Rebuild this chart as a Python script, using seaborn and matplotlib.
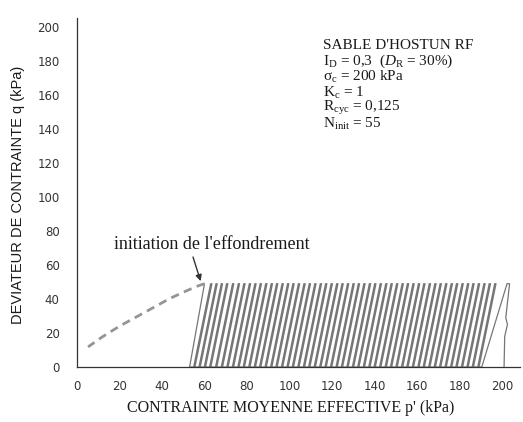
import matplotlib
matplotlib.use("Agg")
import matplotlib.pyplot as plt
import numpy as np
import pandas as pd
import seaborn as sns

# ---------------- data ----------------
# first cycle (right-most curve): load then unload
first_p = [201.0, 201.3, 202.6, 201.8, 203.0, 203.6, 202.4, 190.5]
first_q = [0.0, 18.0, 25.0, 29.0, 42.0, 49.0, 49.0, 0.0]

load_bottom_p = [189.2, 186.6, 184.1, 181.5, 178.9, 176.4, 173.8, 171.2, 168.7, 166.1,
                 163.5, 161.0, 158.4, 155.8, 153.3, 150.7, 148.1, 145.6, 143.0, 140.4,
                 137.9, 135.3, 132.7, 130.2, 127.6, 125.0, 122.5, 119.9, 117.3, 114.8,
                 112.2, 109.6, 107.1, 104.5, 101.9, 99.4, 96.8, 94.2, 91.7, 89.1,
                 86.5, 84.0, 81.4, 78.8, 76.3, 73.7, 71.1, 68.5, 65.8, 63.0,
                 60.5, 58.0, 55.5, 53.0]
load_top_p = [197.2, 194.6, 192.1, 189.5, 186.9, 184.4, 181.8, 179.2, 176.7, 174.1,
              171.5, 169.0, 166.4, 163.8, 161.3, 158.7, 156.1, 153.6, 151.0, 148.4,
              145.9, 143.3, 140.7, 138.2, 135.6, 133.0, 130.5, 127.9, 125.3, 122.8,
              120.2, 117.6, 115.1, 112.5, 109.9, 107.4, 104.8, 102.2, 99.7, 97.1,
              94.5, 92.0, 89.4, 86.8, 84.3, 81.7, 79.1, 76.5, 73.8, 71.0,
              68.5, 66.0, 63.5, 60.0]
unload_top_p = [196.6, 194.0, 191.5, 188.9, 186.3, 183.8, 181.2, 178.6, 176.1, 173.5,
                170.9, 168.4, 165.8, 163.2, 160.7, 158.1, 155.5, 153.0, 150.4, 147.8,
                145.3, 142.7, 140.1, 137.6, 135.0, 132.4, 129.9, 127.3, 124.7, 122.2,
                119.6, 117.0, 114.5, 111.9, 109.3, 106.8, 104.2, 101.6, 99.1, 96.5,
                93.9, 91.4, 88.8, 86.2, 83.7, 81.1, 78.5, 75.9, 73.2, 70.4,
                67.9, 65.4, 62.9]
unload_bottom_p = [188.6, 186.0, 183.5, 180.9, 178.3, 175.8, 173.2, 170.6, 168.1, 165.5,
                   162.9, 160.4, 157.8, 155.2, 152.7, 150.1, 147.5, 145.0, 142.4, 139.8,
                   137.3, 134.7, 132.1, 129.6, 127.0, 124.4, 121.9, 119.3, 116.7, 114.2,
                   111.6, 109.0, 106.5, 103.9, 101.3, 98.8, 96.2, 93.6, 91.1, 88.5,
                   85.9, 83.4, 80.8, 78.2, 75.7, 73.1, 70.5, 67.9, 65.2, 62.4,
                   59.9, 57.4, 54.9]
q_min = 0.0
q_max = 49.0

collapse_p = [60.0, 56.0, 51.0, 44.0, 36.0, 28.0, 20.0, 12.0, 5.2]
collapse_q = [49.0, 47.3, 44.5, 40.5, 35.0, 29.5, 24.0, 17.8, 11.8]

x_ticks = [0, 20, 40, 60, 80, 100, 120, 140, 160, 180, 200]
y_ticks = [0, 20, 40, 60, 80, 100, 120, 140, 160, 180, 200]

info_lines = ["SABLE D'HOSTUN RF",
              r"I$_\mathrm{D}$ = 0,3  ($D_\mathrm{R}$ = 30%)",
              r"σ$_\mathrm{c}$ = 200 kPa",
              r"K$_\mathrm{c}$ = 1",
              r"R$_\mathrm{cyc}$ = 0,125",
              r"N$_\mathrm{init}$ = 55"]
annot_text = "initiation de l'effondrement"
x_label = "CONTRAINTE MOYENNE EFFECTIVE p' (kPa)"
y_label = "DEVIATEUR DE CONTRAINTE q (kPa)"

# ---------------- build path ----------------
path_p = list(first_p)
path_q = list(first_q)
n = len(load_bottom_p)
for k in range(n):
    path_p += [load_bottom_p[k], load_top_p[k]]
    path_q += [q_min, q_max]
    if k < len(unload_top_p):
        path_p += [unload_top_p[k], unload_bottom_p[k]]
        path_q += [q_max, q_min]
df_cyc = pd.DataFrame({"p": path_p, "q": path_q})
df_col = pd.DataFrame({"p": collapse_p, "q": collapse_q})

# ---------------- style ----------------
sns.set_style("white")
plt.rcParams["font.family"] = ["Liberation Serif", "DejaVu Serif"]
plt.rcParams["mathtext.fontset"] = "custom"
plt.rcParams["mathtext.rm"] = "Liberation Serif"
plt.rcParams["mathtext.it"] = "Liberation Serif:italic"
plt.rcParams["mathtext.bf"] = "Liberation Serif:bold"

text_col = "#1a1a1a"
line_col = "#767676"

fig = plt.figure(figsize=(5.23, 4.22), dpi=100)
ax = fig.add_axes([77 / 523, 55 / 422, 443 / 523, 349 / 422])

sns.lineplot(data=df_cyc, x="p", y="q", sort=False, estimator=None, ax=ax,
             color=line_col, lw=0.9)
sns.lineplot(data=df_col, x="p", y="q", sort=False, estimator=None, ax=ax,
             color="#959595", lw=2.0)
ax.lines[-1].set_dashes([3, 2])
for ln in ax.lines:
    ln.set_solid_joinstyle("round")

ax.set_xlim(0, 208.5)
ax.set_ylim(0, 205.3)
sns.despine(ax=ax)
for s in ["left", "bottom"]:
    ax.spines[s].set_color("#333333")
    ax.spines[s].set_linewidth(0.9)

ax.set_xticks(x_ticks)
ax.set_yticks(y_ticks)
ax.set_xticks(np.arange(10, 206, 20), minor=True)
ax.set_yticks(np.arange(10, 206, 20), minor=True)
ax.tick_params(which="major", direction="out", length=4.5, width=0.8, color="#555555",
               labelsize=8.5, labelcolor="#333333")
ax.tick_params(axis="y", which="major", pad=8)
ax.tick_params(axis="x", which="major", pad=5)
ax.tick_params(which="minor", direction="out", length=3, width=0.7, color="#888888")
for lab in ax.get_xticklabels() + ax.get_yticklabels():
    lab.set_family("DejaVu Sans")
ax.set_xlabel("")
ax.set_ylabel("")

fig.text(291 / 523, 1 - 408 / 422, x_label, ha="center", va="center",
         fontsize=11.5, color=text_col, family="Liberation Serif")
fig.text(18 / 523, 1 - 195 / 422, y_label, ha="center", va="center", rotation=90,
         fontsize=10.5, color=text_col, family="Liberation Sans")

# info box
y_pos = [189.4, 179.6, 170.6, 161.4, 152.2, 142.9]
for s, yy in zip(info_lines, y_pos):
    ax.text(115.8, yy, s, ha="left", va="center", fontsize=11, color=text_col,
            family="Liberation Serif")

# annotation
ax.text(63.3, 71.8, annot_text, ha="center", va="center", fontsize=13,
        color=text_col, family="Liberation Serif")
ax.annotate("", xy=(58.2, 50.5), xytext=(54.6, 64.7),
            arrowprops=dict(arrowstyle="-|>", color="#333333", lw=1.0,
                            mutation_scale=9, shrinkA=0, shrinkB=0))

fig.savefig("out.png", dpi=100)
